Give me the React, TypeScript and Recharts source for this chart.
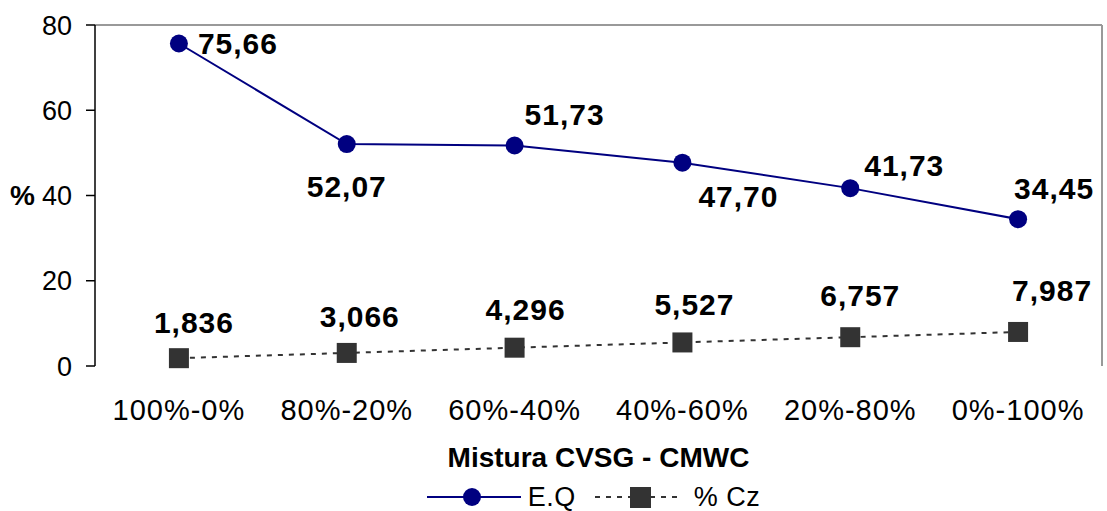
import React from 'react';
import { LineChart, Line, XAxis, YAxis, ReferenceLine, Legend, LabelList } from 'recharts';

const categories = ['100%-0%', '80%-20%', '60%-40%', '40%-60%', '20%-80%', '0%-100%'];
const eqValues = [75.66, 52.07, 51.73, 47.7, 41.73, 34.45];
const czValues = [1.836, 3.066, 4.296, 5.527, 6.757, 7.987];
const eqLabels = ['75,66', '52,07', '51,73', '47,70', '41,73', '34,45'];
const czLabels = ['1,836', '3,066', '4,296', '5,527', '6,757', '7,987'];
const yTicks = [0, 20, 40, 60, 80];

// label placement (layout only): [dx, dy] of label centre relative to point
const eqLabelPlacement: [number, number][] = [
  [59, 0], [0, 42], [50, -31], [56, 34], [54, -23], [36, -31],
];
const czLabelPlacement: [number, number][] = [
  [15, -36], [13, -36], [11, -38], [12, -38], [10, -42], [34, -41],
];

const data = categories.map((c, i) => ({
  x: i + 0.5,
  cat: c,
  eq: eqValues[i],
  cz: czValues[i],
}));

const FONT = 'Arial, "Liberation Sans", Helvetica, sans-serif';
const NAVY = '#000080';
const DARK = '#333333';

const labelStyle = { fontFamily: FONT, fontWeight: 'bold' as const, fontSize: 30, letterSpacing: 1 };

const EqLabel = (props: any) => {
  const { x, y, index } = props;
  const [dx, dy] = eqLabelPlacement[index];
  return (
    <text x={x + dx} y={y + dy} textAnchor="middle" dominantBaseline="central" style={labelStyle} fill="#000">
      {eqLabels[index]}
    </text>
  );
};

const CzLabel = (props: any) => {
  const { x, y, index } = props;
  const [dx, dy] = czLabelPlacement[index];
  return (
    <text x={x + dx} y={y + dy} textAnchor="middle" dominantBaseline="central" style={labelStyle} fill="#000">
      {czLabels[index]}
    </text>
  );
};

const SquareDot = (props: any) => {
  const { cx, cy, index } = props;
  if (cx == null || cy == null) return <g key={index} />;
  return <rect key={index} x={cx - 10} y={cy - 10} width={20} height={20} fill={DARK} />;
};

const LegendContent = () => (
  <div style={{ display: 'flex', justifyContent: 'center', alignItems: 'center', height: 40, marginTop: 6, paddingLeft: 84, fontFamily: FONT, fontSize: 27, letterSpacing: 0.5, color: '#000' }}>
    <svg width={96} height={24} style={{ marginRight: 6 }}>
      <line x1={1} y1={12} x2={95} y2={12} stroke={NAVY} strokeWidth={2} />
      <circle cx={46} cy={12} r={9} fill={NAVY} />
    </svg>
    <span style={{ marginRight: 18 }}>E.Q</span>
    <svg width={88} height={24} style={{ marginRight: 12 }}>
      <line x1={1} y1={12} x2={87} y2={12} stroke={DARK} strokeWidth={2} strokeDasharray="5 6" />
      <rect x={36} y={2} width={21} height={21} fill={DARK} />
    </svg>
    <span>% Cz</span>
  </div>
);

export default function App() {
  return (
    <div style={{ position: 'absolute', left: 0, top: 0, width: 1107, height: 511, background: '#fff' }}>
      <LineChart width={1107} height={511} data={data} margin={{ top: 25, right: 5, left: 0, bottom: 0 }}>
        <XAxis xAxisId="grid" type="number" dataKey="x" domain={[0, 6]} ticks={[0, 1, 2, 3, 4, 5, 6]}
          height={0} tickFormatter={() => ''} tickSize={10}
          axisLine={{ stroke: '#000', strokeWidth: 1.5 }} tickLine={{ stroke: '#000', strokeWidth: 1.5 }} />
        <XAxis xAxisId="cat" type="number" dataKey="x" domain={[0, 6]} ticks={[0.5, 1.5, 2.5, 3.5, 4.5, 5.5]}
          height={105} axisLine={false} tickLine={false} tickMargin={27}
          tickFormatter={(v: number) => categories[Math.floor(v)]}
          tick={{ fill: '#000', fontSize: 29, fontFamily: FONT, letterSpacing: 1 }}
          label={{ value: 'Mistura CVSG - CMWC', position: 'insideBottom', offset: 4, style: { fontFamily: FONT, fontWeight: 'bold', fontSize: 28, fill: '#000' } }} />
        <YAxis type="number" domain={[0, 80]} ticks={yTicks} width={95} tickSize={9} tickMargin={14}
          axisLine={{ stroke: '#000', strokeWidth: 1.5 }} tickLine={{ stroke: '#000', strokeWidth: 1.5 }}
          tick={{ fill: '#000', fontSize: 27, fontFamily: FONT }}
          label={{ value: '%', position: 'insideLeft', offset: 10, style: { fontFamily: FONT, fontWeight: 'bold', fontSize: 28, fill: '#000' } }} />
        <ReferenceLine xAxisId="cat" y={80} stroke="#999" strokeWidth={2} />
        <ReferenceLine xAxisId="cat" x={6} stroke="#999" strokeWidth={2} />
        <Legend verticalAlign="bottom" height={40} content={<LegendContent />} />
        <Line xAxisId="cat" type="linear" dataKey="cz" stroke={DARK} strokeWidth={2} strokeDasharray="5 6"
          dot={<SquareDot />} activeDot={false} isAnimationActive={false} legendType="square">
          <LabelList dataKey="cz" content={<CzLabel />} />
        </Line>
        <Line xAxisId="cat" type="linear" dataKey="eq" stroke={NAVY} strokeWidth={2}
          dot={{ r: 9, fill: NAVY, stroke: NAVY, strokeWidth: 0 }} activeDot={false} isAnimationActive={false}>
          <LabelList dataKey="eq" content={<EqLabel />} />
        </Line>
      </LineChart>
    </div>
  );
}
